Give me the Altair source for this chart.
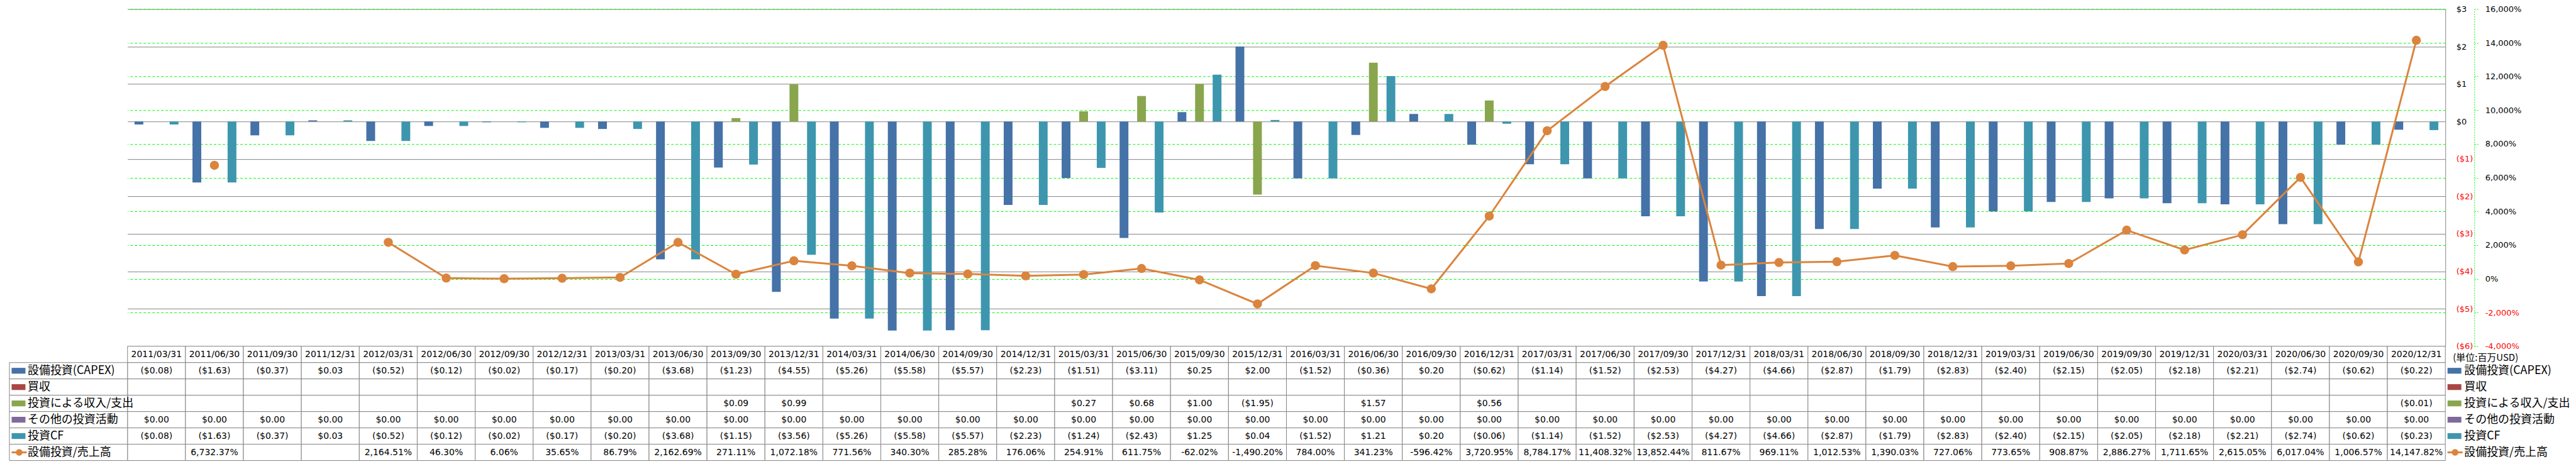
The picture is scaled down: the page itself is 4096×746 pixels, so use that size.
import altair as alt
import pandas as pd

# ---------------- data ----------------
dates = [
    "2011/03/31", "2011/06/30", "2011/09/30", "2011/12/31",
    "2012/03/31", "2012/06/30", "2012/09/30", "2012/12/31",
    "2013/03/31", "2013/06/30", "2013/09/30", "2013/12/31",
    "2014/03/31", "2014/06/30", "2014/09/30", "2014/12/31",
    "2015/03/31", "2015/06/30", "2015/09/30", "2015/12/31",
    "2016/03/31", "2016/06/30", "2016/09/30", "2016/12/31",
    "2017/03/31", "2017/06/30", "2017/09/30", "2017/12/31",
    "2018/03/31", "2018/06/30", "2018/09/30", "2018/12/31",
    "2019/03/31", "2019/06/30", "2019/09/30", "2019/12/31",
    "2020/03/31", "2020/06/30", "2020/09/30", "2020/12/31",
]

capex = [
    -0.08, -1.63, -0.37, 0.03,
    -0.52, -0.12, -0.02, -0.17,
    -0.20, -3.68, -1.23, -4.55,
    -5.26, -5.58, -5.57, -2.23,
    -1.51, -3.11, 0.25, 2.00,
    -1.52, -0.36, 0.20, -0.62,
    -1.14, -1.52, -2.53, -4.27,
    -4.66, -2.87, -1.79, -2.83,
    -2.40, -2.15, -2.05, -2.18,
    -2.21, -2.74, -0.62, -0.22,
]

acquisitions = [None] * 40

investment_proceeds = [
    None, None, None, None,
    None, None, None, None,
    None, None, 0.09, 0.99,
    None, None, None, None,
    0.27, 0.68, 1.00, -1.95,
    None, 1.57, None, 0.56,
    None, None, None, None,
    None, None, None, None,
    None, None, None, None,
    None, None, None, -0.01,
]

other_investing = [0.00] * 40

investing_cf = [
    -0.08, -1.63, -0.37, 0.03,
    -0.52, -0.12, -0.02, -0.17,
    -0.20, -3.68, -1.15, -3.56,
    -5.26, -5.58, -5.57, -2.23,
    -1.24, -2.43, 1.25, 0.04,
    -1.52, 1.21, 0.20, -0.06,
    -1.14, -1.52, -2.53, -4.27,
    -4.66, -2.87, -1.79, -2.83,
    -2.40, -2.15, -2.05, -2.18,
    -2.21, -2.74, -0.62, -0.23,
]

capex_to_sales = [
    None, 6732.37, None, None,
    2164.51, 46.30, 6.06, 35.65,
    86.79, 2162.69, 271.11, 1072.18,
    771.56, 340.30, 285.28, 176.06,
    254.91, 611.75, -62.02, -1490.20,
    784.00, 341.23, -596.42, 3720.95,
    8784.17, 11408.32, 13852.44, 811.67,
    969.11, 1012.53, 1390.03, 727.06,
    773.65, 908.87, 2886.27, 1711.65,
    2615.05, 6017.04, 1006.57, 14147.82,
]

series_names = ["設備投資(CAPEX)", "買収", "投資による収入/支出", "その他の投資活動", "投資CF"]
series_values = [capex, acquisitions, investment_proceeds, other_investing, investing_cf]
series_colors = ["#4572A7", "#AA4643", "#89A54E", "#80699B", "#3D96AE"]
line_name = "設備投資/売上高"
line_color = "#DB843D"
unit_label = "(単位:百万USD)"

dollar_ticks = [-6, -5, -4, -3, -2, -1, 0, 1, 2, 3]
pct_ticks = [-4000, -2000, 0, 2000, 4000, 6000, 8000, 10000, 12000, 14000, 16000]

# ---------------- layout constants ----------------
W = 3690          # plot width
H = 537           # plot height
ROW_H = 26        # table row height
T = ROW_H * 7     # table height
LC = 188          # label column width (left of plot)
GRID_GRAY = "#858585"
NUM_FONT = "DejaVu Sans"
CJK_FONT = "Noto Sans CJK JP"

# ---------------- tables ----------------
bar_rows = []
for i, d in enumerate(dates):
    for name, vals in zip(series_names, series_values):
        bar_rows.append({"date": d, "series": name, "value": vals[i]})
bar_df = pd.DataFrame(bar_rows)

line_df = pd.DataFrame({"date": dates, "ratio": capex_to_sales})


def fmt_money(v):
    if v is None:
        return ""
    if v < 0:
        return f"(${abs(v):.2f})"
    return f"${v:.2f}"


def fmt_pct(v):
    if v is None:
        return ""
    return f"{v:,.2f}%"


table_rows = ["header"] + series_names + [line_name]
cell_rows = []
for i, d in enumerate(dates):
    cell_rows.append({"date": d, "row": "header", "text": d})
    for name, vals in zip(series_names, series_values):
        cell_rows.append({"date": d, "row": name, "text": fmt_money(vals[i])})
    cell_rows.append({"date": d, "row": line_name, "text": fmt_pct(capex_to_sales[i])})
cell_df = pd.DataFrame(cell_rows)

label_df = pd.DataFrame({"row": series_names + [line_name]})
swatch_df = pd.DataFrame({"row": series_names})
line_key_df = pd.DataFrame({"row": [line_name]})
unit_df = pd.DataFrame({"row": ["header"], "t": [unit_label]})

# ---------------- top chart ----------------
x_scale = alt.Scale(domain=dates, paddingInner=0, paddingOuter=0)
X_top = alt.X("date:N", sort=dates, scale=x_scale, axis=None)

neg_red = {"condition": {"test": "datum.value < 0", "value": "#FF0000"}, "value": "#000000"}

bars = (
    alt.Chart(bar_df)
    .transform_filter("isValid(datum.value)")
    .mark_bar()
    .encode(
        x=X_top,
        xOffset=alt.XOffset(
            "series:N",
            sort=series_names,
            scale=alt.Scale(domain=series_names, paddingInner=0, paddingOuter=0.8),
        ),
        y=alt.Y(
            "value:Q",
            scale=alt.Scale(domain=[-6, 3], nice=False, zero=False),
            axis=alt.Axis(
                orient="right",
                values=dollar_ticks,
                grid=True,
                gridColor=GRID_GRAY,
                gridWidth=1,
                domain=True,
                domainColor=GRID_GRAY,
                ticks=False,
                labelPadding=17,
                labelAlign="left",
                labelFont=NUM_FONT,
                labelFontSize=13,
                labelColor=neg_red,
                labelExpr="datum.value < 0 ? '($' + abs(datum.value) + ')' : '$' + datum.value",
                title=None,
            ),
        ),
        color=alt.Color(
            "series:N",
            scale=alt.Scale(domain=series_names, range=series_colors),
            legend=None,
        ),
    )
)

line = (
    alt.Chart(line_df)
    .mark_line(
        color=line_color,
        strokeWidth=3,
        invalid="break-paths-filter-domains",
        point=alt.OverlayMarkDef(filled=True, size=210, color=line_color, opacity=1),
    )
    .encode(
        x=X_top,
        y=alt.Y(
            "ratio:Q",
            scale=alt.Scale(domain=[-4000, 16000], nice=False, zero=False),
            axis=alt.Axis(
                orient="right",
                offset=46,
                values=pct_ticks,
                grid=True,
                gridColor="#00FF00",
                gridDash=[4, 3],
                gridWidth=1,
                domain=True,
                domainColor="#00FF00",
                domainDash=[2, 2],
                ticks=True,
                tickColor="#00FF00",
                tickDash=[2, 2],
                tickSize=6,
                labelPadding=11,
                labelAlign="left",
                labelFont=NUM_FONT,
                labelFontSize=13,
                labelColor=neg_red,
                labelExpr="(datum.value < 0 ? '-' : '') + format(abs(datum.value), ',') + '%'",
                title=None,
            ),
        ),
    )
)

top = alt.layer(bars, line).resolve_scale(y="independent").properties(width=W, height=H)

# ---------------- data table ----------------
X_t = alt.X("date:N", sort=dates, scale=alt.Scale(domain=dates, paddingInner=0, paddingOuter=0), axis=None)
y_scale_t = alt.Scale(domain=table_rows, paddingInner=0, paddingOuter=0)
Y_band = alt.Y("row:N", sort=table_rows, scale=y_scale_t, axis=None)
Y_mid = alt.Y("row:N", sort=table_rows, scale=y_scale_t, axis=None, bandPosition=0.5)

cells = alt.Chart(cell_df).mark_rect(fill="white", stroke=GRID_GRAY, strokeWidth=1).encode(x=X_t, y=Y_band)
cell_text = alt.Chart(cell_df).mark_text(font=NUM_FONT, fontSize=14, color="#000000", baseline="middle").encode(
    x=X_t, y=Y_mid, text="text:N"
)

label_box = alt.Chart(label_df).mark_rect(fill="white", stroke=GRID_GRAY, strokeWidth=1).encode(
    x=alt.value(-LC), x2=alt.value(0), y=Y_band
)

swatch_shape = "M-1,-0.42L1,-0.42L1,0.42L-1,0.42Z"
color_t = alt.Color("row:N", scale=alt.Scale(domain=series_names, range=series_colors), legend=None)


def legend_parts(x_start, text_x):
    sw = alt.Chart(swatch_df).mark_point(
        shape=swatch_shape, size=484, filled=True, opacity=1, strokeWidth=0
    ).encode(x=alt.value(x_start + 11), y=Y_mid, color=color_t)
    rule = alt.Chart(line_key_df).mark_rule(color=line_color, strokeWidth=3).encode(
        x=alt.value(x_start), x2=alt.value(x_start + 24), y=Y_mid
    )
    dot = alt.Chart(line_key_df).mark_point(filled=True, size=110, color=line_color, opacity=1).encode(
        x=alt.value(x_start + 12), y=Y_mid
    )
    txt = alt.Chart(label_df).mark_text(
        font=CJK_FONT, fontSize=18, align="left", baseline="middle", color="#000000"
    ).encode(x=alt.value(text_x), y=Y_mid, text="row:N")
    return [sw, rule, dot, txt]


left_legend = legend_parts(-LC + 3.5, -LC + 29)
right_legend = legend_parts(W + 3.5, W + 30)

unit_text = alt.Chart(unit_df).mark_text(
    font=CJK_FONT, fontSize=15, align="left", baseline="middle", dy=5, color="#000000"
).encode(x=alt.value(W + 12), y=Y_mid, text="t:N")

table = alt.layer(
    cells, cell_text, label_box, *left_legend, *right_legend, unit_text
).properties(width=W, height=T)

chart = (
    alt.vconcat(top, table, spacing=0, bounds="flush")
    .properties(padding={"left": 6, "top": 0, "right": 0, "bottom": 0})
    .configure_view(stroke=None)
)

chart.save("out.html", embed_options={"renderer": "svg", "actions": False})
